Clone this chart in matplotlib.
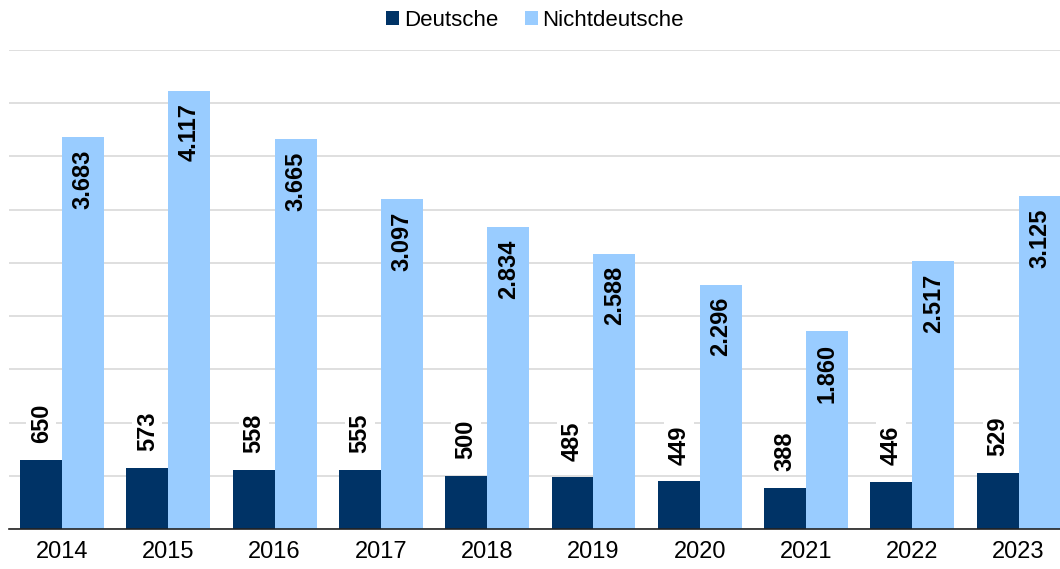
import matplotlib.pyplot as plt
import numpy as np

plt.rcParams['font.family'] = ['Liberation Sans', 'DejaVu Sans']

years = ['2014', '2015', '2016', '2017', '2018', '2019', '2020', '2021', '2022', '2023']
deutsche = [650, 573, 558, 555, 500, 485, 449, 388, 446, 529]
nichtdeutsche = [3683, 4117, 3665, 3097, 2834, 2588, 2296, 1860, 2517, 3125]


def fmt(v):
    return f'{v:,}'.replace(',', '.')


def main():
    fig = plt.figure(figsize=(10.6, 5.69), dpi=100)
    ax = fig.add_axes([9 / 1060, 40 / 569, 1051 / 1060, 479 / 569])

    x = np.arange(len(years))
    w = 0.395
    b1 = ax.bar(x - w / 2, deutsche, w, color='#003366', label='Deutsche', zorder=2)
    b2 = ax.bar(x + w / 2, nichtdeutsche, w, color='#99CCFF', label='Nichtdeutsche', zorder=2)

    for rect, v in zip(b1, deutsche):
        ax.annotate(fmt(v), (rect.get_x() + rect.get_width() / 2, rect.get_height()),
                    xytext=(0, 12), textcoords='offset points', rotation=90,
                    ha='center', va='bottom', fontsize=17, fontweight='bold', zorder=3,
                    bbox=dict(boxstyle='square,pad=0.15', fc='white', ec='none'))
    for rect, v in zip(b2, nichtdeutsche):
        ax.annotate(fmt(v), (rect.get_x() + rect.get_width() / 2, rect.get_height()),
                    xytext=(0, -9), textcoords='offset points', rotation=90,
                    ha='center', va='top', fontsize=17, fontweight='bold', zorder=3)

    ax.set_ylim(0, 4500)
    ax.set_xlim(-0.5, 9.39)
    ax.set_yticks(np.arange(0, 4501, 500))
    ax.yaxis.grid(True, color='#d9d9d9', linewidth=1.2, zorder=0)
    ax.set_axisbelow(True)
    ax.tick_params(axis='y', left=False, labelleft=False)
    ax.tick_params(axis='x', length=0, labelsize=17, pad=9)
    ax.set_xticks(x)
    ax.set_xticklabels(years)
    for s in ['top', 'right', 'left']:
        ax.spines[s].set_visible(False)
    ax.spines['bottom'].set_color('#222222')
    ax.spines['bottom'].set_linewidth(1.2)

    fig.legend(loc='center', bbox_to_anchor=(535 / 1060, 1 - 20 / 569), ncol=2,
               frameon=False, fontsize=16, handlelength=0.6, handleheight=0.6,
               handletextpad=0.2, columnspacing=1.2)

    fig.savefig('out.png', dpi=100)


if __name__ == '__main__':
    main()
